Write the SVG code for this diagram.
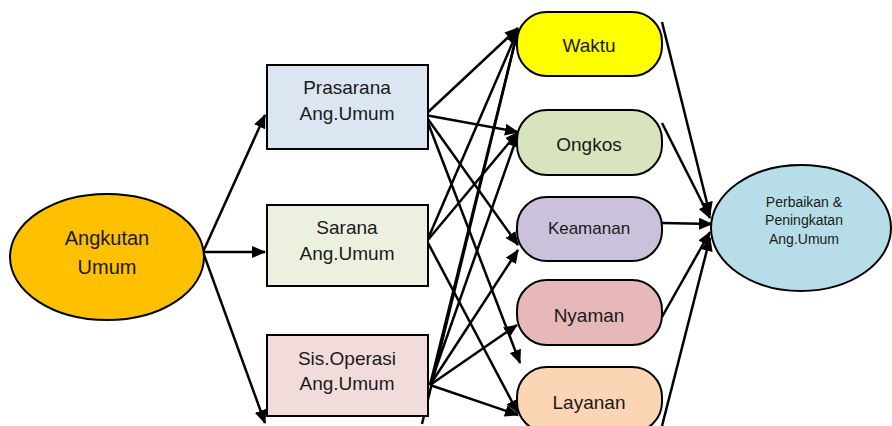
<svg xmlns="http://www.w3.org/2000/svg" width="892" height="426" viewBox="0 0 892 426">
<style>
.sh{stroke:#000;stroke-width:2}
.t{font-family:"Liberation Sans",Arial,sans-serif;fill:#1a1a1a;text-anchor:middle}
.c{stroke:#000;stroke-width:2.5;fill:none;marker-end:url(#ah)}
.cn{stroke:#000;stroke-width:2.5;fill:none}
</style>
<defs>
<marker id="ah" markerUnits="userSpaceOnUse" markerWidth="14" markerHeight="12" refX="13" refY="6" orient="auto">
<path d="M0,0 L14,6 L0,12 z" fill="#000"/>
</marker>
</defs>
<g id="connectors">
<path class="c" d="M203,252 L265,115"/>
<path class="c" d="M203,252 L265,252"/>
<path class="c" d="M203,252 L265,423"/>
<path class="c" d="M425,115 L518,28"/>
<path class="c" d="M425,115 L518,132"/>
<path class="c" d="M425,115 L518,245"/>
<path class="c" d="M425,115 L520,363"/>
<path class="c" d="M427,241 L518,30"/>
<path class="c" d="M427,241 L518,132"/>
<path class="c" d="M427,241 L518,413"/>
<path class="c" d="M430,385 L518,30"/>
<path class="c" d="M422,424 L518,30"/>
<path class="c" d="M430,385 L518,134"/>
<path class="c" d="M430,385 L518,250"/>
<path class="c" d="M430,385 L517,325"/>
<path class="c" d="M430,385 L518,415"/>
<path class="c" d="M662,22 L710,215"/>
<path class="c" d="M662,123 L710,218"/>
<path class="c" d="M662,223 L712,224"/>
<path class="c" d="M662,317 L710,232"/>
<path class="c" d="M662,426 L710,238"/>
</g>
<g id="angkutan">
<ellipse class="sh" cx="107" cy="257" rx="97" ry="63" fill="#FFC000"/>
<text class="t" x="107" y="245" font-size="20">Angkutan</text>
<text class="t" x="107" y="274" font-size="20">Umum</text>
</g>
<g id="prasarana">
<rect class="sh" x="267" y="65" width="161" height="84" fill="#DCE6F2"/>
<text class="t" x="347" y="94" font-size="19">Prasarana</text>
<text class="t" x="347" y="120" font-size="19">Ang.Umum</text>
</g>
<g id="sarana">
<rect class="sh" x="267" y="205" width="161" height="81" fill="#EBF1DE"/>
<text class="t" x="347" y="234" font-size="19">Sarana</text>
<text class="t" x="347" y="260" font-size="19">Ang.Umum</text>
</g>
<g id="sisoperasi">
<rect class="sh" x="267" y="335" width="161" height="81" fill="#F2DCDB"/>
<text class="t" x="347" y="365" font-size="19">Sis.Operasi</text>
<text class="t" x="347" y="390" font-size="19">Ang.Umum</text>
</g>
<g id="waktu">
<rect class="sh" x="517" y="12" width="145" height="64" rx="30" fill="#FFFF00"/>
<text class="t" x="589" y="52" font-size="19">Waktu</text>
</g>
<g id="ongkos">
<rect class="sh" x="517" y="110" width="145" height="65" rx="30" fill="#D7E4BD"/>
<text class="t" x="589" y="151" font-size="19">Ongkos</text>
</g>
<g id="keamanan">
<rect class="sh" x="517" y="197" width="145" height="64" rx="30" fill="#CCC1DA"/>
<text class="t" x="589" y="234" font-size="17">Keamanan</text>
</g>
<g id="nyaman">
<rect class="sh" x="517" y="280" width="145" height="65" rx="30" fill="#E6B9B8"/>
<text class="t" x="589" y="322" font-size="19">Nyaman</text>
</g>
<g id="layanan">
<rect class="sh" x="517" y="367" width="145" height="65" rx="30" fill="#FCD5B5"/>
<text class="t" x="589" y="409" font-size="19">Layanan</text>
</g>
<g id="perbaikan">
<ellipse class="sh" cx="801" cy="228" rx="90" ry="63" fill="#B7DEE8"/>
<text class="t" x="804" y="207" font-size="14">Perbaikan &amp;</text>
<text class="t" x="804" y="225" font-size="14">Peningkatan</text>
<text class="t" x="804" y="244" font-size="14">Ang.Umum</text>
</g>
</svg>
